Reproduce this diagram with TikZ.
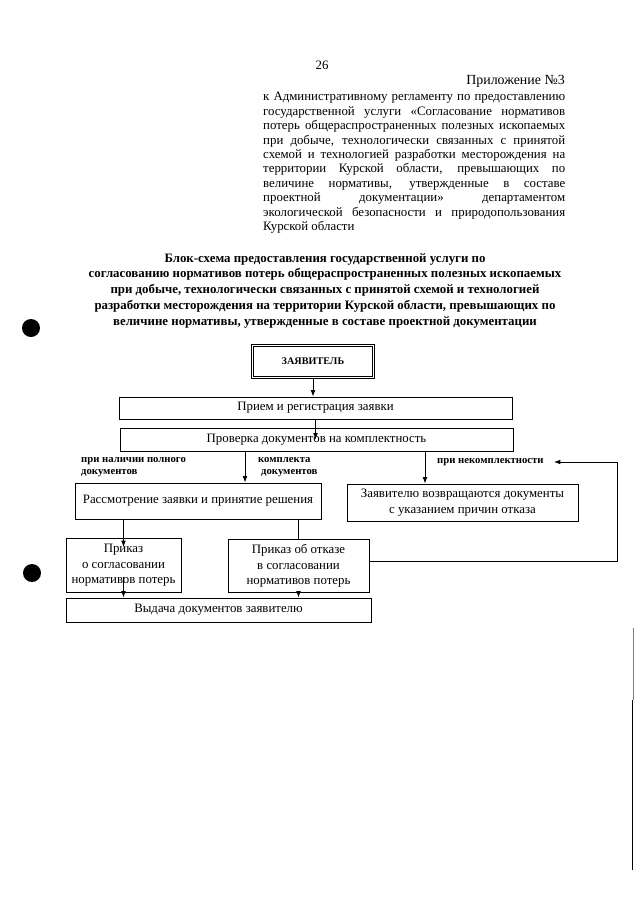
\documentclass[tikz,border=0pt]{standalone}
\usepackage{fontspec}
\setmainfont{Liberation Serif}
\usetikzlibrary{arrows.meta,calc}
\newdimen\px \px=0.328125mm

\begin{document}
\begin{tikzpicture}[x=1\px,y=-1\px]
  \tikzset{
    BoxStyle/.style = {draw, line width=0.8pt, inner sep=0pt, align=center,
                       font=\fontsize{12}{14.6}\selectfont},
    LabelStyle/.style = {inner sep=0pt, align=left,
                         font=\fontsize{10}{11.2}\selectfont\bfseries},
    EdgeStyle/.style = {line width=0.8pt, -{Latex[length=6pt,width=4.4pt]}},
    LineStyle/.style = {line width=0.8pt},
    HoleStyle/.style = {fill=black}
  }
  \useasboundingbox (0,0) rectangle (640,905);

  % header of the appendix
  \node[font=\fontsize{12}{14}\selectfont] (page) at (322,65) {26};
  \node[anchor=east, inner sep=0pt, font=\fontsize{13}{15}\selectfont] (appx) at (565,81) {Приложение №3};
  \node[anchor=north west, text width=302\px, inner sep=0pt, align=justify,
        font=\fontsize{12}{13.48}\selectfont] (reglament) at (263,92)
    {\hyphenpenalty=10000 \exhyphenpenalty=10000
     к Административному регламенту по предоставлению\linebreak
     государственной услуги «Согласование нормативов\linebreak
     потерь общераспространенных полезных ископаемых\linebreak
     при добыче, технологически связанных с принятой\linebreak
     схемой и технологией разработки месторождения на\linebreak
     территории Курской области, превышающих по\linebreak
     величине нормативы, утвержденные в составе\linebreak
     проектной документации» департаментом\linebreak
     экологической безопасности и природопользования\linebreak
     Курской области};

  % title
  \node[anchor=north, inner sep=0pt, align=center,
        font=\fontsize{12}{14.75}\selectfont\bfseries] (title) at (325,253)
    {Блок-схема предоставления государственной услуги по\\
     согласованию нормативов потерь общераспространенных полезных ископаемых\\
     при добыче, технологически связанных с принятой схемой и технологией\\
     разработки месторождения на территории Курской области, превышающих по\\
     величине нормативы, утвержденные в составе проектной документации};

  % boxes
  \node[BoxStyle, double, double distance=1.5pt, minimum width=121\px, minimum height=32\px,
        font=\fontsize{9.5}{11}\selectfont\bfseries] (zaja) at (313,361.5) {ЗАЯВИТЕЛЬ};
  \node[BoxStyle, minimum width=393\px, minimum height=22\px] (priem) at (315.5,408) {Прием и регистрация заявки};
  \node[BoxStyle, minimum width=393\px, minimum height=23\px] (proverka) at (316.5,439.5) {Проверка документов на комплектность};
  \node[BoxStyle, minimum width=246\px, minimum height=36\px] (rassm) at (198,501) {Рассмотрение заявки и принятие решения};
  \node[BoxStyle, minimum width=231\px, minimum height=37\px] (vozvrat) at (462.5,502.5)
    {Заявителю возвращаются документы\\с указанием причин отказа};
  \node[BoxStyle, minimum width=115\px, minimum height=54\px] (prikazS) at (123.5,565.5)
    {Приказ\\о согласовании\\нормативов потерь};
  \node[BoxStyle, minimum width=141\px, minimum height=53\px] (prikazO) at (298.5,566)
    {Приказ об отказе\\в согласовании\\нормативов потерь};
  \node[BoxStyle, minimum width=305\px, minimum height=24\px] (vydacha) at (218.5,610) {Выдача документов заявителю};

  % labels at the branches
  \node[LabelStyle, anchor=north west] (polnogo) at (81,457) {при наличии полного\\документов};
  \node[LabelStyle, anchor=north west] (komplekta) at (258,457) {комплекта\\\hspace{3\px}документов};
  \node[LabelStyle, anchor=west, inner xsep=10\px] (nekompl) at (427,462) {при некомплектности};

  \coordinate (kL) at (245,0);
  \coordinate (kR) at (425,0);
  \coordinate (loopR) at (617,0);
  \coordinate (loopA) at ($(prikazO.east)+(0,-5)$);

  % connectors
  \draw[EdgeStyle] (zaja.south) -- (zaja.south |- priem.north);
  \draw[EdgeStyle] (priem.south) -- (priem.south |- proverka.center);
  \draw[EdgeStyle] (proverka.south -| kL) -- (rassm.north -| kL);
  \draw[EdgeStyle] (proverka.south -| kR) -- (vozvrat.north -| kR);
  \draw[EdgeStyle] (rassm.south -| prikazS) -- ($(prikazS.north)+(0,9)$);
  \draw[LineStyle] (rassm.south -| prikazO) -- (prikazO.north);
  \draw[EdgeStyle] ($(prikazS.south)+(0,-16)$) -- (prikazS.south |- vydacha.north);
  \draw[EdgeStyle] (prikazO.south) -- (prikazO.south |- vydacha.north);
  \draw[EdgeStyle] (loopA) -- (loopA -| loopR) -- (nekompl.east -| loopR) -- (nekompl.east);

  % punch holes and the edge of the sheet
  \fill[HoleStyle] (31,328) circle[radius=9\px];
  \fill[HoleStyle] (32,573) circle[radius=9\px];
  \draw[line width=0.4pt, gray] (633,628) -- (633,700);
  \draw[line width=1.1pt] (632.5,700) -- (632.5,870);
\end{tikzpicture}
\end{document}
